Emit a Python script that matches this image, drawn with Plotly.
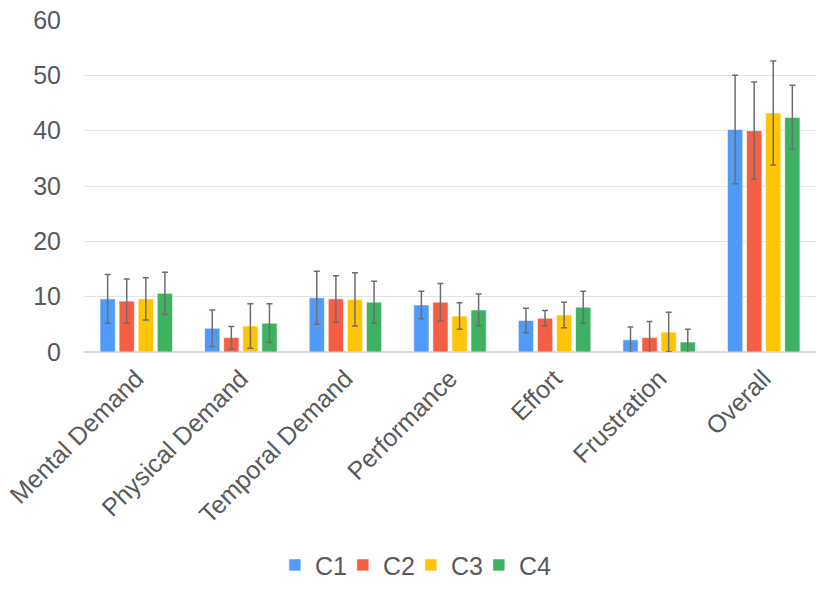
import plotly.graph_objects as go

categories = ["Mental Demand", "Physical Demand", "Temporal Demand", "Performance",
              "Effort", "Frustration", "Overall"]
series_names = ["C1", "C2", "C3", "C4"]
c1 = [9.6, 4.3, 9.8, 8.5, 5.7, 2.2, 40.2]
c2 = [9.2, 2.6, 9.6, 9.0, 6.1, 2.6, 40.0]
c3 = [9.6, 4.7, 9.5, 6.5, 6.7, 3.6, 43.2]
c4 = [10.6, 5.2, 9.0, 7.6, 8.1, 1.8, 42.4]
c1_err = [4.4, 3.3, 4.8, 2.5, 2.2, 2.3, 9.8]
c2_err = [4.0, 2.0, 4.2, 3.4, 1.4, 2.9, 8.8]
c3_err = [3.8, 4.0, 4.8, 2.4, 2.3, 3.6, 9.4]
c4_err = [3.8, 3.5, 3.8, 2.9, 2.9, 2.3, 5.8]
colors = ["#4f9bf7", "#f35e44", "#ffc403", "#3eb163"]

values = [c1, c2, c3, c4]
errors = [c1_err, c2_err, c3_err, c4_err]

fig = go.Figure()
for name, vals, errs, col in zip(series_names, values, errors, colors):
    fig.add_trace(go.Bar(
        name=name, x=categories, y=vals,
        marker=dict(color=col, line=dict(color="rgba(255,255,255,0.6)", width=1)),
        error_y=dict(type="data", array=errs, visible=True,
                     color="#6e6e6e", thickness=1.5, width=3),
    ))
# empty legend slot so the last legend label is not clipped
fig.add_trace(go.Scatter(x=[categories[0]], y=[None], mode="markers", name=" ",
                         marker=dict(color="rgba(0,0,0,0)"), hoverinfo="skip"))

fig.update_layout(
    width=830, height=592,
    paper_bgcolor="white", plot_bgcolor="white",
    barmode="group", bargap=0.27, bargroupgap=0.2,
    margin=dict(l=84, r=14, t=20, b=240, autoexpand=False),
    font=dict(family="Liberation Sans, Arial, sans-serif", size=25, color="#595959"),
    showlegend=True,
    legend=dict(orientation="h", x=0.493, xanchor="center", y=-0.642, yanchor="middle",
                font=dict(size=25, color="#595959"), itemwidth=30,
                entrywidth=23, traceorder="normal"),
    xaxis=dict(tickangle=-45, showgrid=False, showline=False, ticks="", automargin=False,
               tickfont=dict(size=25, color="#595959"),
               ticklabelstandoff=6, ticklabelshift=0),
    yaxis=dict(range=[0, 60], dtick=10, showgrid=True, gridcolor="#e3e3e3", gridwidth=1,
               zeroline=True, zerolinecolor="#d9d9d9", zerolinewidth=1.5, automargin=False,
               showline=False, ticks="", tickfont=dict(size=25, color="#595959"),
               ticklabelstandoff=22),
)

fig.write_html("out.html", config={"displayModeBar": False},
               post_script="document.body.style.margin='0';document.body.style.overflow='hidden';")
